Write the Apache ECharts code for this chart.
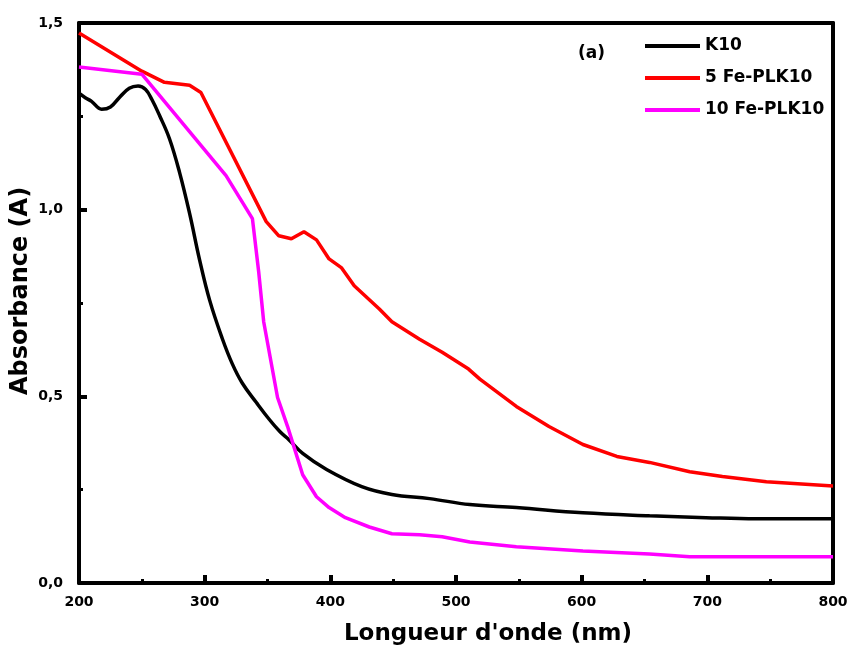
<!DOCTYPE html>
<html><head><meta charset="utf-8">
<script src="https://cdn.jsdelivr.net/npm/echarts@6/dist/echarts.min.js"></script>
<style>html,body{margin:0;padding:0;background:#fff}#c{width:851px;height:649px}</style>
</head><body><div id="c"></div>
<script>
const seriesNames = ['K10', '5 Fe-PLK10', '10 Fe-PLK10'];
const k10X = [200,205,210,218,225,232,240,247,253,258,264,272,280,288,296,304,314,322,330,341,351,360,367,378,397,425,449,479,511,548,601,654,699,739,800];
const k10Y = [1.312,1.30,1.29,1.269,1.275,1.30,1.325,1.331,1.322,1.295,1.253,1.19,1.10,0.99,0.865,0.757,0.655,0.587,0.535,0.484,0.44,0.405,0.384,0.347,0.304,0.258,0.237,0.226,0.21,0.202,0.188,0.18,0.175,0.172,0.172];
const fe5X = [200,250,268,288,297,349,359,369,379,389,399,409,419,439,449,471,489,510,519,548,574,601,628,654,686,712,747,800];
const fe5Y = [1.473,1.371,1.341,1.333,1.314,0.968,0.93,0.922,0.941,0.919,0.868,0.844,0.796,0.734,0.70,0.653,0.618,0.573,0.546,0.473,0.419,0.371,0.339,0.323,0.298,0.285,0.271,0.26];
const fe10X = [200,250,317,338,343,347,358,366,370,378,389,399,412,431,449,471,489,511,548,601,654,686,800];
const fe10Y = [1.382,1.363,1.091,0.976,0.833,0.699,0.497,0.419,0.376,0.29,0.231,0.202,0.175,0.15,0.132,0.129,0.124,0.11,0.097,0.086,0.078,0.07,0.07];
const xTicks = [200,300,400,500,600,700,800];
const yTicks = [0,0.5,1.0,1.5];

const zip = (xs, ys) => xs.map((x, i) => [x, ys[i]]);
const font = '"DejaVu Sans", sans-serif';
const chart = echarts.init(document.getElementById('c'));
chart.setOption({
  animation: false,
  backgroundColor: '#fff',
  grid: { left: 79, right: 18, top: 23, bottom: 66, containLabel: false, outerBoundsMode: 'none' },
  graphic: [{ type: 'text', left: 578, top: 45, style: { text: '(a)', font: 'bold 17px ' + font, fill: '#000' } }],
  legend: {
    orient: 'vertical', left: 645, top: 36, padding: 0, itemWidth: 55, itemHeight: 4, itemGap: 12,
    icon: 'rect',
    textStyle: { fontFamily: font, fontWeight: 'bold', fontSize: 17, color: '#000', lineHeight: 20 },
    data: seriesNames
  },
  xAxis: [{
    type: 'value', min: 200, max: 800, interval: 100,
    name: "Longueur d'onde (nm)", nameLocation: 'middle', nameGap: 40, nameMoveOverlap: false,
    nameTextStyle: { fontFamily: font, fontWeight: 'bold', fontSize: 23, color: '#000', padding: [0, 0, 0, 64] },
    axisLine: { onZero: false, lineStyle: { color: '#000', width: 4 } },
    axisTick: { inside: true, length: 8, lineStyle: { color: '#000', width: 4 } },
    minorTick: { show: true, splitNumber: 2, length: 4, lineStyle: { color: '#000', width: 3 } },
    axisLabel: { margin: 12, fontFamily: font, fontWeight: 'bold', fontSize: 14, color: '#000',
      formatter: v => xTicks.includes(v) ? String(v) : '' },
    splitLine: { show: false }
  }, {
    type: 'value', min: 200, max: 800, position: 'top',
    axisLine: { onZero: false, lineStyle: { color: '#000', width: 4 } },
    axisTick: { show: false }, axisLabel: { show: false }, splitLine: { show: false }
  }],
  yAxis: [{
    type: 'value', min: 0, max: 1.5, interval: 0.5,
    name: 'Absorbance (A)', nameLocation: 'middle', nameGap: 46, nameMoveOverlap: false,
    nameTextStyle: { fontFamily: font, fontWeight: 'bold', fontSize: 24, color: '#000', padding: [0, 0, 0, 24] },
    axisLine: { onZero: false, lineStyle: { color: '#000', width: 4 } },
    axisTick: { inside: true, length: 8, lineStyle: { color: '#000', width: 4 } },
    minorTick: { show: true, splitNumber: 2, length: 4, lineStyle: { color: '#000', width: 3 } },
    axisLabel: { margin: 16, fontFamily: font, fontWeight: 'bold', fontSize: 14, color: '#000',
      formatter: v => yTicks.some(t => Math.abs(t - v) < 1e-9) ? v.toFixed(1).replace('.', ',') : '' },
    splitLine: { show: false }
  }, {
    type: 'value', min: 0, max: 1.5, position: 'right',
    axisLine: { onZero: false, lineStyle: { color: '#000', width: 4 } },
    axisTick: { show: false }, axisLabel: { show: false }, splitLine: { show: false }
  }],
  series: [
    { name: seriesNames[0], type: 'line', data: zip(k10X, k10Y), showSymbol: false, smooth: 0.4,
      lineStyle: { color: '#000', width: 3.5 }, itemStyle: { color: '#000' } },
    { name: seriesNames[1], type: 'line', data: zip(fe5X, fe5Y), showSymbol: false,
      lineStyle: { color: '#ff0000', width: 3.5 }, itemStyle: { color: '#ff0000' } },
    { name: seriesNames[2], type: 'line', data: zip(fe10X, fe10Y), showSymbol: false,
      lineStyle: { color: '#ff00ff', width: 3.5 }, itemStyle: { color: '#ff00ff' } }
  ]
});
</script></body></html>
